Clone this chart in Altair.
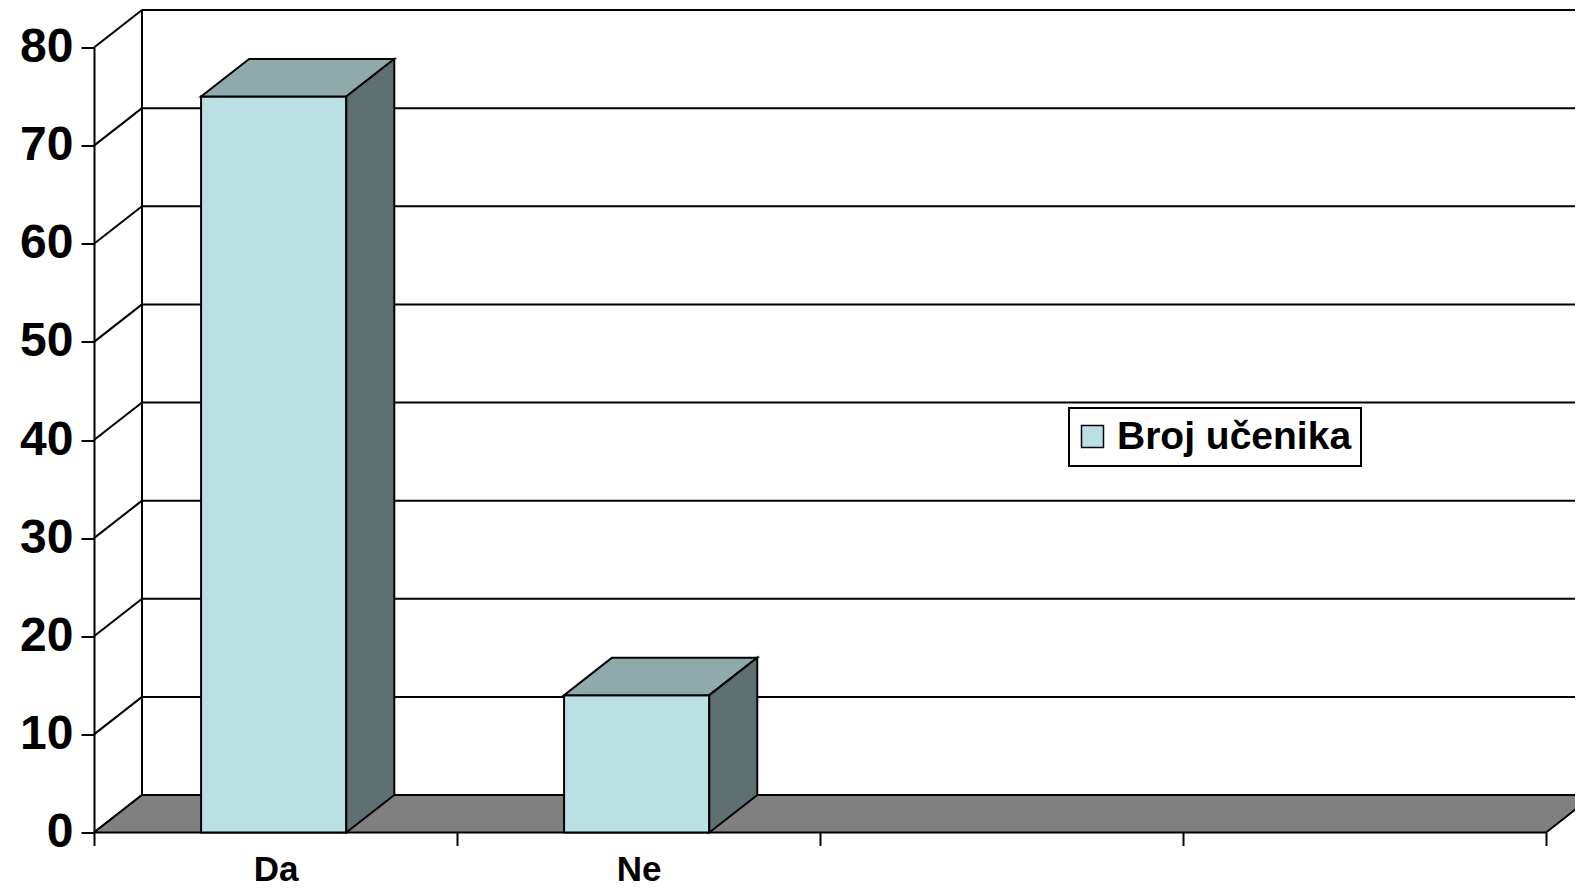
import altair as alt
import pandas as pd

# ---- data ----
categories = ["Da", "Ne"]
values = [75, 14]
series_name = "Broj učenika"
slot_count = 4
y_ticks = [0, 10, 20, 30, 40, 50, 60, 70, 80]

# ---- styling / layout constants ----
FONT = "Liberation Sans"
FRONT = "#BBE0E3"
TOP = "#8FAAAB"
SIDE = "#5F7072"
FLOOR = "#808080"
PX_PER_SLOT = 363.0
PX_PER_UNIT = 9.8125
DX = 48 / PX_PER_SLOT          # depth offset in category units
DY = 37.5 / PX_PER_UNIT        # depth offset in value units
BAR_START = 0.295
BAR_W = 0.4
YMAX = max(y_ticks)
W = PX_PER_SLOT * slot_count
H = PX_PER_UNIT * YMAX

bars_df = pd.DataFrame({
    "category": categories,
    "value": values,
    "slot": list(range(len(categories))),
    "series": [series_name] * len(categories),
})
ticks_df = pd.DataFrame({"tick": y_ticks})
floor_df = pd.DataFrame({"k": [0, 1]})

xs = alt.Scale(domain=[0, slot_count], nice=False, zero=False)
ys = alt.Scale(domain=[0, YMAX], nice=False, zero=False)

# label expression for the category axis
label_expr = "''"
for i, c in reversed(list(enumerate(categories))):
    label_expr = f"datum.value == {i + 0.5} ? '{c}' : " + label_expr

tick_vals = list(range(slot_count + 1))
x_axis_values = sorted(tick_vals + [i + 0.5 for i in range(len(categories))])

x_axis = alt.Axis(
    values=x_axis_values, labelExpr=label_expr, title=None, grid=False,
    domain=False, ticks=True, tickColor="black", tickWidth=2, tickSize=13,
    tickOpacity=alt.condition("datum.value % 1 != 0", alt.value(0), alt.value(1)),
    labelFont=FONT, labelFontSize=35, labelFontWeight="bold", labelColor="black",
    labelPadding=7, labelFlush=False, labelOverlap=False, labelBound=False,
)
y_axis = alt.Axis(
    values=y_ticks, title=None, grid=False, domain=True, domainColor="black",
    domainWidth=2, ticks=True, tickColor="black", tickWidth=2, tickSize=13,
    labelFont=FONT, labelFontSize=48, labelFontWeight="bold", labelColor="black",
    labelPadding=8, labelFlush=False, labelOverlap=False,
)
legend = alt.Legend(
    title=None, orient="none", legendX=975, legendY=360.5,
    fillColor="white", strokeColor="black", padding=9,
    symbolType="square", symbolSize=484, symbolStrokeColor="black",
    symbolStrokeWidth=1.5, symbolOpacity=1, symbolOffset=-5,
    labelFont=FONT, labelFontSize=39, labelFontWeight="bold", labelColor="black",
    labelLimit=0, labelOffset=5,
)

X = lambda f, **kw: alt.X(f, scale=xs, axis=x_axis, **kw)
Y = lambda f, **kw: alt.Y(f, scale=ys, axis=y_axis, **kw)

# left wall diagonals
diag = alt.Chart(ticks_df).transform_calculate(
    yb=f"datum.tick + {DY}", xa="0", xb=f"{DX}"
).mark_rule(color="black", strokeWidth=2).encode(
    x=X("xa:Q"), x2="xb:Q", y=Y("tick:Q"), y2="yb:Q",
)

# back wall gridlines
grid = alt.Chart(ticks_df).transform_calculate(
    yb=f"datum.tick + {DY}", xa=f"{DX}", xb=f"{slot_count + DX}"
).mark_rule(color="black", strokeWidth=2).encode(
    x=X("xa:Q"), x2="xb:Q", y=Y("yb:Q"),
)

# back wall left edge
back_edge = alt.Chart(ticks_df).transform_filter(
    f"datum.tick == {YMAX}"
).transform_calculate(
    yb=f"datum.tick + {DY}", ya=f"{DY}", xa=f"{DX}"
).mark_rule(color="black", strokeWidth=2).encode(
    x=X("xa:Q"), y=Y("ya:Q"), y2="yb:Q",
)

# floor
floor = alt.Chart(floor_df).transform_calculate(
    fy=f"datum.k * {DY}",
    fxa=f"datum.k * {DX}",
    fxb=f"{slot_count} + datum.k * {DX}",
).mark_area(orient="horizontal", fill=FLOOR, stroke="black", strokeWidth=2,
            opacity=1).encode(
    y=Y("fy:Q"), x=X("fxa:Q", stack=None), x2="fxb:Q",
)

# front faces of the bars
front = alt.Chart(bars_df).transform_calculate(
    x1=f"datum.slot + {BAR_START}",
    x2=f"datum.slot + {BAR_START + BAR_W}",
    base="0",
).mark_bar(stroke="black", strokeWidth=2, opacity=1).encode(
    x=X("x1:Q"), x2="x2:Q", y=Y("value:Q"), y2="base:Q",
    color=alt.Color("series:N", scale=alt.Scale(range=[FRONT]), legend=legend),
)

# top faces
top = alt.Chart(bars_df).transform_calculate(
    k="[0, 1]"
).transform_flatten(["k"]).transform_calculate(
    ty=f"datum.value + datum.k * {DY}",
    txa=f"datum.slot + {BAR_START} + datum.k * {DX}",
    txb=f"datum.slot + {BAR_START + BAR_W} + datum.k * {DX}",
).mark_area(orient="horizontal", fill=TOP, stroke="black", strokeWidth=2,
            opacity=1).encode(
    y=Y("ty:Q"), x=X("txa:Q", stack=None), x2="txb:Q", detail="category:N",
)

# side faces
side = alt.Chart(bars_df).transform_calculate(
    k="[0, 1]"
).transform_flatten(["k"]).transform_calculate(
    sx=f"datum.slot + {BAR_START + BAR_W} + datum.k * {DX}",
    slo=f"datum.k * {DY}",
    shi=f"datum.value + datum.k * {DY}",
).mark_area(orient="vertical", fill=SIDE, stroke="black", strokeWidth=2,
            opacity=1).encode(
    x=X("sx:Q"), y=Y("slo:Q", stack=None), y2="shi:Q", detail="category:N",
)

chart = alt.layer(diag, grid, back_edge, floor, front, top, side).properties(
    width=W,
    height=H,
    autosize=alt.AutoSizeParams(type="none"),
    padding={"left": 86, "top": 39.5, "right": 29, "bottom": 54.5},
    background="white",
).configure_view(stroke=None).configure_legend(strokeWidth=2)

chart.save("out.html", embed_options={"renderer": "svg", "actions": False})
